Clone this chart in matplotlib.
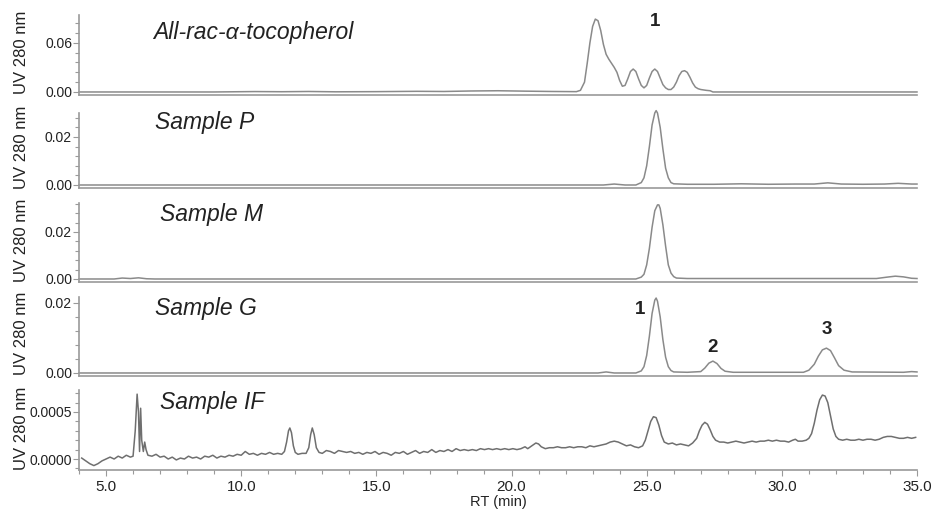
import matplotlib
matplotlib.use("Agg")
import matplotlib.pyplot as plt
from matplotlib.ticker import MultipleLocator, FormatStrFormatter

plt.rcParams['font.family'] = ['Liberation Sans', 'DejaVu Sans']

# ---------------- data ----------------
panel_titles = ["All-rac-\u03b1-tocopherol", "Sample P", "Sample M", "Sample G", "Sample IF"]

# All-rac-alpha-tocopherol trace (time in min, UV 280 nm signal)
rac_time = [4.0, 9.0, 10.5, 11.5, 12.5, 13.5, 15.0, 16.5, 17.5, 18.5, 19.5, 20.5, 21.5, 22.4,
            22.55, 22.7, 22.8, 22.9, 23.0, 23.1, 23.2, 23.3, 23.4, 23.5, 23.6, 23.7, 23.8, 23.9,
            24.0, 24.1, 24.2, 24.3, 24.4, 24.5, 24.6, 24.7, 24.8, 24.9, 25.0, 25.1, 25.2, 25.3,
            25.4, 25.5, 25.6, 25.7, 25.8, 25.9, 26.0, 26.1, 26.2, 26.3, 26.4, 26.5, 26.6, 26.7,
            26.8, 26.9, 27.0, 27.2, 27.35, 27.45, 35.0]
rac_signal = [0.0, 0.0, 0.0005, 0.0003, 0.0006, 0.0002, 0.0004, 0.0008, 0.0006, 0.0012, 0.0015, 0.0010, 0.0006, 0.0004,
              0.002, 0.012, 0.035, 0.060, 0.080, 0.089, 0.087, 0.075, 0.058, 0.046, 0.040, 0.035, 0.030, 0.024,
              0.014, 0.007, 0.008, 0.016, 0.025, 0.028, 0.025, 0.016, 0.008, 0.005, 0.008, 0.017, 0.025, 0.028,
              0.025, 0.017, 0.009, 0.005, 0.003, 0.003, 0.006, 0.012, 0.020, 0.025, 0.026, 0.024, 0.018, 0.011,
              0.006, 0.004, 0.003, 0.002, 0.0015, 0.0, 0.0]

# Sample P
p_time = [4.0, 23.4, 23.8, 24.2, 24.6, 24.8, 24.9, 25.0, 25.1, 25.2, 25.3, 25.35, 25.4, 25.5, 25.6, 25.7,
          25.8, 25.9, 26.0, 26.5, 27.5, 28.5, 29.5, 30.5, 31.2, 31.7, 32.2, 33.0, 33.8, 34.3, 34.8, 35.0]
p_signal = [0.0, 0.0, 0.0004, 0.0, 0.0, 0.001, 0.003, 0.008, 0.016, 0.025, 0.030, 0.031, 0.030, 0.024, 0.015, 0.007,
            0.003, 0.001, 0.0005, 0.0003, 0.0003, 0.0005, 0.0003, 0.0004, 0.0004, 0.0009, 0.0004, 0.0003, 0.0004, 0.0007, 0.0004, 0.0004]

# Sample M
m_time = [4.0, 5.3, 5.6, 5.9, 6.2, 6.5, 6.8, 24.6, 24.8, 24.9, 25.0, 25.1, 25.2, 25.3, 25.4, 25.45, 25.5, 25.6,
          25.7, 25.8, 25.9, 26.0, 26.1, 26.5, 33.5, 33.9, 34.2, 34.5, 34.8, 35.0]
m_signal = [0.0, 0.0, 0.0004, 0.0002, 0.0005, 0.0001, 0.0, 0.0, 0.0008, 0.002, 0.006, 0.013, 0.022, 0.029, 0.0315, 0.0315, 0.030, 0.023,
            0.014, 0.006, 0.0025, 0.001, 0.0004, 0.0002, 0.0002, 0.0008, 0.0012, 0.0009, 0.0003, 0.0002]

# Sample G
g_time = [4.0, 23.2, 23.5, 23.8, 24.6, 24.8, 24.9, 25.0, 25.1, 25.2, 25.3, 25.35, 25.4, 25.5, 25.6, 25.7, 25.8,
          25.9, 26.0, 26.5, 27.0, 27.15, 27.3, 27.45, 27.6, 27.75, 27.9, 28.2, 30.8, 31.0, 31.2, 31.35, 31.5,
          31.65, 31.8, 31.95, 32.1, 32.3, 32.6, 34.5, 34.8, 35.0]
g_signal = [0.0, 0.0, 0.0003, 0.0, 0.0, 0.0006, 0.0018, 0.005, 0.0105, 0.017, 0.0208, 0.0214, 0.0205, 0.016, 0.0095, 0.0045, 0.0018,
            0.0007, 0.0003, 0.0002, 0.0004, 0.0014, 0.0028, 0.0034, 0.0027, 0.0013, 0.0005, 0.0002, 0.0002, 0.0008, 0.0025, 0.0048, 0.0066,
            0.0071, 0.0064, 0.0043, 0.0021, 0.0008, 0.0003, 0.0002, 0.0004, 0.0003]

# Sample IF (signal in units of 1e-5)
if_time = [4.10, 4.25, 4.40, 4.55, 4.70, 4.85, 5.00, 5.15, 5.30, 5.45, 5.60, 5.75, 5.90, 6.00, 6.08, 6.15,
           6.20, 6.24, 6.28, 6.32, 6.38, 6.43, 6.48, 6.55, 6.70, 6.85, 7.00, 7.15, 7.30, 7.45, 7.60, 7.75,
           7.90, 8.05, 8.20, 8.35, 8.50, 8.65, 8.80, 8.95, 9.10, 9.25, 9.40, 9.55, 9.70, 9.85, 10.00, 10.15,
           10.30, 10.45, 10.60, 10.75, 10.90, 11.05, 11.20, 11.35, 11.50, 11.60, 11.68, 11.75, 11.80, 11.86,
           11.93, 12.00, 12.10, 12.25, 12.40, 12.50, 12.57, 12.63, 12.70, 12.78, 12.88, 13.00, 13.15, 13.30,
           13.45, 13.60, 13.75, 13.90, 14.05, 14.20, 14.35, 14.50, 14.65, 14.80, 14.95, 15.10, 15.25, 15.40,
           15.55, 15.70, 15.85, 16.00, 16.15, 16.30, 16.45, 16.60, 16.75, 16.90, 17.05, 17.20, 17.35, 17.50,
           17.65, 17.80, 17.95, 18.10, 18.25, 18.40, 18.55, 18.70, 18.85, 19.00, 19.15, 19.30, 19.45, 19.60,
           19.75, 19.90, 20.05, 20.20, 20.35, 20.50, 20.60, 20.75, 20.90, 21.00, 21.10, 21.25, 21.40, 21.55,
           21.70, 21.85, 22.00, 22.15, 22.30, 22.45, 22.60, 22.75, 22.90, 23.05, 23.20, 23.35, 23.50, 23.65,
           23.80, 23.95, 24.10, 24.25, 24.40, 24.55, 24.70, 24.85, 24.95, 25.05, 25.15, 25.25, 25.35, 25.45,
           25.55, 25.65, 25.80, 25.95, 26.10, 26.25, 26.40, 26.55, 26.70, 26.85, 26.95, 27.05, 27.15, 27.25,
           27.35, 27.45, 27.55, 27.70, 27.85, 28.00, 28.15, 28.30, 28.45, 28.60, 28.75, 28.90, 29.05, 29.20,
           29.35, 29.50, 29.65, 29.80, 29.95, 30.10, 30.25, 30.40, 30.50, 30.60, 30.75, 30.90, 31.00, 31.10,
           31.20, 31.30, 31.40, 31.50, 31.60, 31.70, 31.80, 31.90, 32.00, 32.10, 32.25, 32.40, 32.55, 32.70,
           32.85, 33.00, 33.15, 33.30, 33.45, 33.60, 33.75, 33.90, 34.05, 34.20, 34.35, 34.50, 34.65, 34.80,
           34.95]
if_signal_1e5 = [1, -2, -5, -7, -5, -2, 0, 2, 0, 3, 1, 4, 2, 3, 30, 69,
                 50, 8, 54, 20, 8, 18, 10, 4, 3, 5, 2, 3, 0, 2, -1, 1,
                 0, 3, 1, 2, 0, 3, 2, 4, 1, 3, 2, 4, 3, 5, 4, 8,
                 5, 6, 4, 6, 5, 7, 5, 6, 5, 8, 18, 30, 33, 28,
                 14, 7, 5, 6, 6, 12, 26, 33, 26, 12, 7, 6, 9, 8,
                 6, 9, 8, 7, 8, 6, 7, 5, 7, 6, 8, 5, 7, 6,
                 4, 7, 6, 8, 5, 7, 9, 6, 8, 7, 10, 7, 9, 8,
                 10, 8, 11, 9, 10, 9, 10, 9, 11, 10, 11, 10, 11, 10,
                 11, 10, 11, 10, 11, 13, 11, 14, 17, 16, 13, 11, 12, 12,
                 13, 12, 12, 13, 12, 13, 13, 12, 14, 13, 14, 15, 16, 18,
                 19, 18, 16, 14, 15, 13, 12, 14, 20, 30, 40, 45, 44, 36,
                 25, 18, 16, 17, 15, 16, 15, 14, 17, 22, 30, 36, 39, 37,
                 31, 24, 20, 18, 18, 17, 18, 19, 18, 17, 18, 19, 18, 19,
                 19, 20, 19, 20, 19, 19, 18, 20, 21, 19, 19, 20, 22, 27,
                 38, 52, 63, 68, 67, 60, 46, 32, 24, 21, 20, 21, 20, 20,
                 21, 20, 21, 21, 20, 21, 23, 24, 24, 23, 22, 22, 23, 22,
                 23]

x_ticks = [5.0, 10.0, 15.0, 20.0, 25.0, 30.0, 35.0]
y_major = [0.06, 0.02, 0.02, 0.02, 0.0005]
y_minor = [0.012, 0.004, 0.004, 0.004, 0.0001]
y_fmt = ['%.2f', '%.2f', '%.2f', '%.2f', '%.4f']

# ---------------- layout (pixels) ----------------
W, H = 933, 513
fig = plt.figure(figsize=(W / 100, H / 100), dpi=100)
left_px, right_px = 79, 917
# (top px, bottom px, ymin, ymax)
panels = [
    (15, 95, -0.0037, 0.094),
    (113, 188, -0.00125, 0.030),
    (203, 282, -0.00128, 0.0323),
    (297, 376, -0.00086, 0.0217),
    (390, 470, -0.000117, 0.000734),
]
traces = [
    (rac_time, rac_signal),
    (p_time, p_signal),
    (m_time, m_signal),
    (g_time, g_signal),
    (if_time, [v * 1e-5 for v in if_signal_1e5]),
]
title_pos = [(153, 32), (155, 123), (160, 215), (155, 308), (160, 403)]
ylabel_y = [52, 147, 240, 333, 428]

line_col = '#8a8a8a'
spine_col = '#9a9a9a'
text_col = '#222222'

axes = []
for i, ((t, b, y0, y1), (xt, yv)) in enumerate(zip(panels, traces)):
    ax = fig.add_axes([left_px / W, 1 - b / H, (right_px - left_px) / W, (b - t) / H])
    ax.plot(xt, yv, color=line_col if i < 4 else '#6f6f6f', lw=1.1, clip_on=False)
    ax.set_xlim(4.0, 35.0)
    ax.set_ylim(y0, y1)
    for s in ['top', 'right']:
        ax.spines[s].set_visible(False)
    for s in ['left', 'bottom']:
        ax.spines[s].set_color(spine_col)
        ax.spines[s].set_linewidth(1.2)
    ax.yaxis.set_major_locator(MultipleLocator(y_major[i]))
    ax.yaxis.set_minor_locator(MultipleLocator(y_minor[i]))
    ax.yaxis.set_major_formatter(FormatStrFormatter(y_fmt[i]))
    ax.tick_params(axis='y', which='major', length=4, width=0.8, color=spine_col,
                   labelsize=10, labelcolor=text_col, pad=1)
    ax.tick_params(axis='y', which='minor', length=3, width=0.8, color=spine_col)
    if i < 4:
        ax.tick_params(axis='x', which='both', bottom=False, labelbottom=False)
    else:
        ax.set_xticks(x_ticks)
        ax.xaxis.set_minor_locator(MultipleLocator(1.0))
        ax.xaxis.set_major_formatter(FormatStrFormatter('%.1f'))
        ax.tick_params(axis='x', which='major', length=4, width=0.8, color=spine_col,
                       labelsize=11, labelcolor=text_col, pad=3)
        ax.tick_params(axis='x', which='minor', length=3, width=0.8, color=spine_col)
        ax.set_xlabel('RT (min)', fontsize=10.5, color=text_col, labelpad=1)
    ax.patch.set_alpha(0)
    tx, ty = title_pos[i]
    fig.text(tx / W, 1 - ty / H, panel_titles[i], fontsize=16.5, style='italic',
             color=text_col, va='center', ha='left')
    fig.text(22 / W, 1 - ylabel_y[i] / H, 'UV 280 nm', rotation=90, fontsize=12,
             color=text_col, va='center', ha='center')
    axes.append(ax)

# peak labels
for (lbl, px, py) in [('1', 655, 22), ('1', 640, 309), ('2', 713, 348), ('3', 827, 330)]:
    fig.text(px / W, 1 - py / H, lbl, fontsize=13.5, fontweight='bold', color=text_col,
             ha='center', va='center')

fig.savefig('out.png', dpi=100)
